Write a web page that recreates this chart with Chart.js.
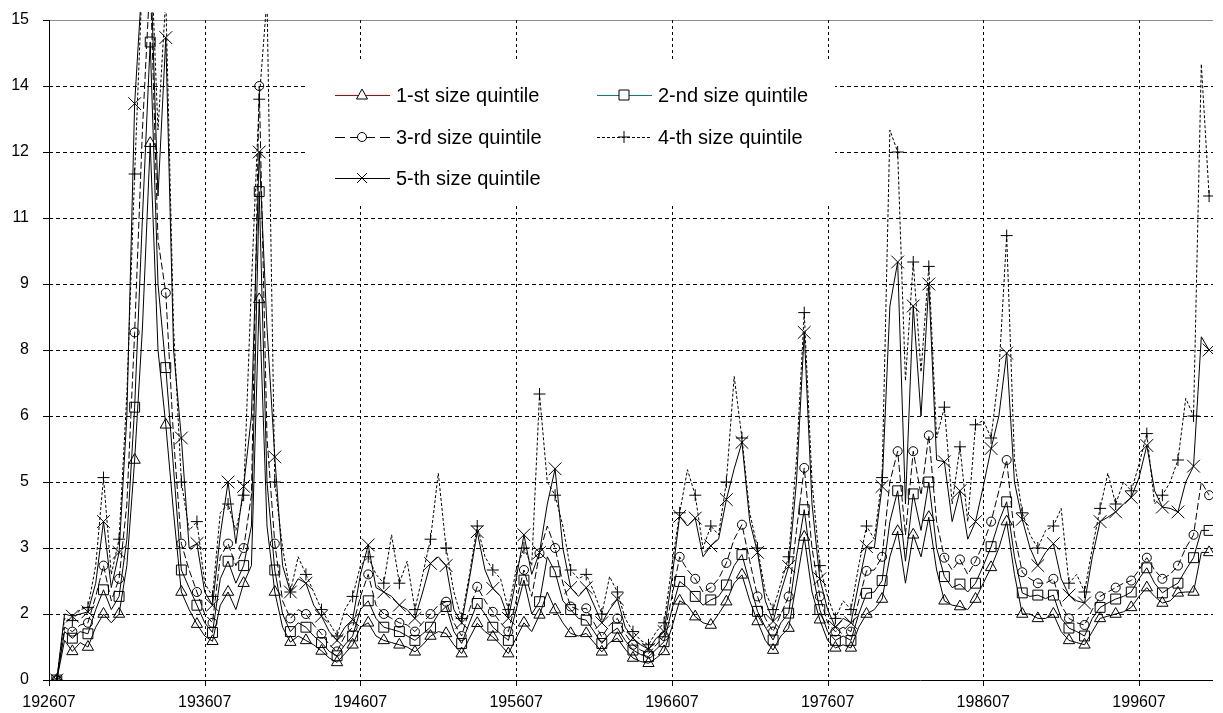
<!DOCTYPE html>
<html>
<head>
<meta charset="utf-8">
<script src="https://cdn.jsdelivr.net/npm/chart.js@4.4.1/dist/chart.umd.min.js"></script>
<style>
html,body{margin:0;padding:0;background:#fff;}
#wrap{width:1223px;height:713px;position:relative;}
</style>
</head>
<body>
<div id="wrap"><canvas id="c" width="1223" height="713"></canvas></div>
<script>
// Categories: half-year sample periods (YYYYMM)
const periods = [
'192701','192707','192801','192807','192901','192907','193001','193007','193101','193107',
'193201','193207','193301','193307','193401','193407','193501','193507','193601','193607',
'193701','193707','193801','193807','193901','193907','194001','194007','194101','194107',
'194201','194207','194301','194307','194401','194407','194501','194507','194601','194607',
'194701','194707','194801','194807','194901','194907','195001','195007','195101','195107',
'195201','195207','195301','195307','195401','195407','195501','195507','195601','195607',
'195701','195707','195801','195807','195901','195907','196001','196007','196101','196107',
'196201','196207','196301','196307','196401','196407','196501','196507','196601','196607',
'196701','196707','196801','196807','196901','196907','197001','197007','197101','197107',
'197201','197207','197301','197307','197401','197407','197501','197507','197601','197607',
'197701','197707','197801','197807','197901','197907','198001','198007','198101','198107',
'198201','198207','198301','198307','198401','198407','198501','198507','198601','198607',
'198701','198707','198801','198807','198901','198907','199001','199007','199101','199107',
'199201','199207','199301','199307','199401','199407','199501','199507','199601','199607',
'199701','199707','199801','199807','199901','199907','200001','200007','200101'
];
const axisStart = '192607';
const axisEnd = '200104';
const tickLabels = ['192607','193607','194607','195607','196607','197607','198607','199607'];

const seriesNames = ['1-st size quintile','2-nd size quintile','3-rd size quintile','4-th size quintile','5-th size quintile'];

const q1 = [
0,0.9,0.65,0.85,0.75,1.2,1.5,1.3,1.5,2.6,
5.0,8.0,12.2,7.5,5.8,3.8,2.0,1.6,1.27,1.0,
0.88,1.7,2.0,1.6,2.2,2.6,8.65,3.5,2.0,1.2,
0.86,1.0,0.9,0.8,0.66,0.5,0.4,0.6,0.8,1.2,
1.3,1.0,0.9,0.85,0.8,0.75,0.64,0.8,1.0,1.1,
1.06,0.8,0.6,0.95,1.29,1.1,0.98,0.8,0.6,0.95,
1.3,1.1,1.48,2.0,1.6,1.3,1.06,1.0,1.06,0.85,
0.64,0.85,0.95,0.7,0.5,0.42,0.38,0.5,0.65,1.2,
1.8,1.7,1.44,1.3,1.25,1.5,1.78,2.2,2.39,1.8,
1.33,0.9,0.68,1.0,1.18,2.2,3.25,2.0,1.37,0.9,
0.73,0.8,0.73,1.2,1.5,1.6,1.84,2.8,3.38,2.2,
3.3,2.8,3.7,2.5,1.8,1.7,1.67,1.6,1.84,2.2,
2.56,3.0,3.6,2.4,1.5,1.5,1.4,1.4,1.5,1.1,
0.9,0.85,0.8,1.1,1.4,1.45,1.5,1.55,1.65,1.9,
2.1,1.9,1.75,1.8,1.98,2.0,2.0,2.9,2.9
];
const q2 = [
0,1.1,0.95,1.1,1.05,1.6,2.05,1.6,1.9,3.2,
6.2,10.5,14.5,9.0,7.1,4.8,2.5,2.1,1.7,1.3,
1.08,2.3,2.7,2.2,2.6,3.5,11.1,4.5,2.5,1.5,
1.1,1.3,1.2,1.0,0.85,0.65,0.55,0.8,1.0,1.6,
1.8,1.4,1.2,1.15,1.1,1.0,0.9,1.05,1.2,1.5,
1.67,1.1,0.83,1.3,1.74,1.5,1.2,1.05,0.9,1.6,
2.27,1.5,1.78,2.8,2.46,1.8,1.6,1.4,1.36,1.1,
0.83,1.05,1.18,0.9,0.68,0.58,0.53,0.7,0.87,1.6,
2.24,2.1,1.9,1.7,1.82,1.9,2.16,2.6,2.85,2.2,
1.56,1.2,0.91,1.3,1.52,2.8,3.87,2.5,1.6,1.1,
0.9,1.0,0.9,1.5,1.97,2.0,2.26,3.6,4.3,2.7,
4.23,3.4,4.5,3.0,2.35,2.1,2.18,2.0,2.2,2.6,
3.03,3.6,4.05,2.8,1.98,1.9,1.93,1.85,1.93,1.4,
1.18,1.1,1.0,1.4,1.65,1.75,1.84,1.9,2.0,2.3,
2.55,2.2,1.98,2.1,2.2,2.5,2.78,3.4,3.4
];
const q3 = [
0,1.2,1.1,1.25,1.3,1.9,2.6,1.8,2.3,4.0,
7.9,12.5,16,10.0,8.8,5.5,3.1,2.5,2.0,1.5,
1.3,2.8,3.1,2.6,3.0,4.2,13.5,5.5,3.1,1.8,
1.4,1.6,1.5,1.25,1.05,0.8,0.65,1.0,1.2,1.9,
2.4,1.7,1.5,1.4,1.3,1.25,1.1,1.3,1.5,1.7,
1.78,1.3,1.0,1.6,2.12,1.8,1.55,1.3,1.1,1.8,
2.5,1.9,2.88,3.5,3.0,2.2,1.67,1.6,1.63,1.3,
0.98,1.25,1.4,1.05,0.8,0.68,0.6,0.8,1.0,1.9,
2.8,2.5,2.3,2.0,2.1,2.3,2.66,3.2,3.53,2.7,
1.9,1.4,1.1,1.5,1.9,3.4,4.82,3.0,1.9,1.3,
1.1,1.2,1.1,1.8,2.48,2.5,2.8,4.5,5.2,3.3,
5.2,4.2,5.56,3.6,2.78,2.5,2.74,2.4,2.7,3.1,
3.6,4.3,5.0,3.3,2.45,2.3,2.2,2.2,2.3,1.7,
1.4,1.3,1.25,1.6,1.9,2.0,2.1,2.2,2.26,2.5,
2.78,2.5,2.3,2.4,2.6,3.0,3.3,4.5,4.2
];
const q4 = [
0,1.4,1.35,1.6,1.65,2.6,4.6,2.4,3.2,6.5,
11.5,16,17,12.5,15.5,8.0,4.5,3.4,3.6,2.2,
1.9,3.8,4.0,3.4,4.2,9.0,13.2,15.5,4.5,3.0,
2.0,2.8,2.4,2.0,1.6,1.3,1.0,1.6,1.9,2.6,
2.8,2.4,2.2,3.3,2.2,2.7,1.6,2.4,3.2,4.7,
3.0,2.0,1.4,2.4,3.5,2.8,2.5,2.3,1.6,2.5,
3.0,2.6,6.5,4.5,4.2,3.5,2.5,2.3,2.4,2.0,
1.5,2.35,2.0,1.4,1.1,0.9,0.8,1.1,1.3,2.6,
3.8,4.78,4.2,3.0,3.5,3.3,4.5,6.9,5.5,3.8,
3.0,2.0,1.6,2.2,2.8,5.0,8.35,4.5,2.6,1.9,
1.4,1.8,1.6,2.6,3.5,3.2,4.6,12.5,12.0,6.8,
9.5,7.0,9.4,5.5,6.2,4.0,5.3,3.6,5.8,5.9,
5.5,7.0,10.1,5.0,3.8,3.3,3.0,3.4,3.5,3.9,
2.2,2.4,2.0,3.0,3.9,4.7,4.0,4.5,4.3,4.9,
5.6,4.0,4.2,4.5,5.0,6.4,6.0,14.0,11.0
];
const q5 = [
0,1.5,1.45,1.5,1.55,2.2,3.6,2.1,2.9,6.0,
13.1,16,16.5,11.0,14.6,7.5,5.5,3.0,3.1,2.0,
1.7,3.3,4.5,3.1,4.4,6.0,12.0,8.0,5.07,2.6,
2.0,2.3,2.2,1.7,1.45,1.1,0.9,1.2,1.37,2.4,
3.07,2.1,2.0,1.9,1.7,1.6,1.4,2.0,2.65,2.8,
2.6,1.6,1.3,2.3,3.37,2.5,2.08,1.9,1.4,2.3,
3.3,2.4,2.9,4.0,4.8,3.0,2.1,1.9,2.1,1.7,
1.3,1.6,1.84,1.2,0.95,0.8,0.7,0.95,1.1,2.3,
3.72,3.5,3.68,2.8,3.05,3.2,4.1,4.8,5.4,3.6,
2.9,1.8,1.33,2.0,2.58,4.5,7.9,4.0,2.3,1.6,
1.2,1.4,1.3,2.2,3.03,3.0,4.4,8.5,9.5,4.0,
8.5,6.0,9.0,5.0,4.96,3.6,4.3,3.2,3.6,4.4,
5.26,6.0,7.43,4.5,3.65,3.0,2.6,2.9,3.1,2.3,
1.93,1.8,1.75,2.8,3.6,3.7,3.82,4.0,4.15,4.6,
5.33,4.3,3.93,3.9,3.82,4.5,4.86,7.8,7.5
];

// month offset of a YYYYMM period from the axis start
function monthIndex(p) {
  const s = parseInt(axisStart, 10), v = parseInt(p, 10);
  return (Math.floor(v / 100) - Math.floor(s / 100)) * 12 + (v % 100 - s % 100);
}
const xs = periods.map(monthIndex);
const tickMonths = tickLabels.map(monthIndex);
const pts = arr => arr.map((v, i) => ({x: xs[i], y: v}));
const markerEvery = (r) => (c) => (c.dataIndex % 2 === 0 ? r : 0);

const FONT = "'Liberation Sans', Arial, sans-serif";

const styles = [
  {pointStyle: 'triangle', radius: 6.5, dash: [], legendColor: '#c00000'},
  {pointStyle: 'rect', radius: 7, dash: [], legendColor: '#008080'},
  {pointStyle: 'circle', radius: 4.5, dash: [7, 3], legendColor: '#000'},
  {pointStyle: 'cross', radius: 6, dash: [3, 2], legendColor: '#000'},
  {pointStyle: 'crossRot', radius: 9, dash: [], legendColor: '#000'}
];
const seriesData = [q1, q2, q3, q4, q5];

const datasets = seriesData.map((arr, i) => ({
  label: seriesNames[i],
  data: pts(arr),
  borderColor: '#000',
  borderWidth: 1,
  borderDash: styles[i].dash,
  pointStyle: styles[i].pointStyle,
  pointRadius: markerEvery(styles[i].radius),
  pointBorderColor: '#000',
  pointBackgroundColor: 'rgba(0,0,0,0)',
  pointBorderWidth: 1,
  tension: 0,
  fill: false,
  clip: {left: 0, top: 8, right: 0, bottom: 0}
}));

const gridPlugin = {
  id: 'excelGrid',
  beforeDatasetsDraw(chart) {
    const {ctx, chartArea: a, scales: {x, y}} = chart;
    ctx.save();
    ctx.lineWidth = 1;
    y.ticks.forEach(t => {
      const py = Math.round(y.getPixelForValue(t.value)) + 0.5;
      ctx.setLineDash([]);
      ctx.strokeStyle = '#000';
      ctx.beginPath(); ctx.moveTo(a.left - 6, py); ctx.lineTo(a.left, py); ctx.stroke();
      if (t.value <= 0) return;
      if (t.value >= 15) { ctx.setLineDash([]); ctx.strokeStyle = '#8c8c8c'; }
      else { ctx.setLineDash([4, 3]); ctx.strokeStyle = '#000'; }
      ctx.beginPath(); ctx.moveTo(a.left, py); ctx.lineTo(a.right, py); ctx.stroke();
    });
    x.ticks.forEach(t => {
      const px = Math.round(x.getPixelForValue(t.value)) + 0.5;
      ctx.setLineDash([]);
      ctx.strokeStyle = '#000';
      ctx.beginPath(); ctx.moveTo(px, a.bottom); ctx.lineTo(px, a.bottom + 6); ctx.stroke();
      if (t.value <= 0) return;
      ctx.setLineDash([3, 3]);
      ctx.beginPath(); ctx.moveTo(px, a.top); ctx.lineTo(px, a.bottom); ctx.stroke();
    });
    ctx.setLineDash([]);
    ctx.strokeStyle = '#000';
    ctx.beginPath();
    ctx.moveTo(Math.round(a.left) + 0.5, a.top);
    ctx.lineTo(Math.round(a.left) + 0.5, a.bottom);
    ctx.moveTo(a.left - 6, Math.round(a.bottom) + 0.5);
    ctx.lineTo(a.right, Math.round(a.bottom) + 0.5);
    ctx.stroke();
    ctx.restore();
  }
};

function drawMarker(ctx, style, cx, cy) {
  ctx.beginPath();
  if (style === 'triangle') {
    ctx.moveTo(cx, cy - 6); ctx.lineTo(cx + 5.5, cy + 4); ctx.lineTo(cx - 5.5, cy + 4); ctx.closePath();
    ctx.fillStyle = '#fff'; ctx.fill(); ctx.stroke();
  } else if (style === 'rect') {
    ctx.rect(cx - 5, cy - 5, 10, 10);
    ctx.fillStyle = '#fff'; ctx.fill(); ctx.stroke();
  } else if (style === 'circle') {
    ctx.arc(cx, cy, 4.5, 0, Math.PI * 2);
    ctx.fillStyle = '#fff'; ctx.fill(); ctx.stroke();
  } else if (style === 'cross') {
    ctx.moveTo(cx - 6, cy); ctx.lineTo(cx + 6, cy); ctx.moveTo(cx, cy - 6); ctx.lineTo(cx, cy + 6); ctx.stroke();
  } else {
    ctx.moveTo(cx - 5, cy - 5); ctx.lineTo(cx + 5, cy + 5); ctx.moveTo(cx + 5, cy - 5); ctx.lineTo(cx - 5, cy + 5); ctx.stroke();
  }
}

const legendPlugin = {
  id: 'excelLegend',
  afterDatasetsDraw(chart) {
    const ctx = chart.ctx;
    ctx.save();
    ctx.fillStyle = '#fff';
    ctx.fillRect(305, 62, 530, 143);
    const slots = [
      {x: 335, y: 95}, {x: 597, y: 95},
      {x: 335, y: 137}, {x: 597, y: 137},
      {x: 335, y: 178}
    ];
    slots.forEach((s, i) => {
      const st = styles[i];
      ctx.lineWidth = 1;
      ctx.strokeStyle = st.legendColor;
      ctx.setLineDash(i === 2 ? [10, 5] : (i === 3 ? [3, 2] : []));
      ctx.beginPath(); ctx.moveTo(s.x, s.y + 0.5); ctx.lineTo(s.x + 55, s.y + 0.5); ctx.stroke();
      ctx.setLineDash([]);
      ctx.strokeStyle = '#000';
      drawMarker(ctx, st.pointStyle, s.x + 27, s.y);
      ctx.fillStyle = '#000';
      ctx.font = '20px ' + FONT;
      ctx.textBaseline = 'middle';
      ctx.textAlign = 'left';
      ctx.fillText(seriesNames[i], s.x + 61, s.y + 1);
    });
    ctx.restore();
  }
};

new Chart(document.getElementById('c').getContext('2d'), {
  type: 'line',
  data: {datasets},
  plugins: [gridPlugin, legendPlugin],
  options: {
    responsive: false,
    animation: false,
    layout: {padding: {top: 20, right: 0, left: 0, bottom: 0}},
    plugins: {legend: {display: false}, tooltip: {enabled: false}},
    scales: {
      x: {
        type: 'linear',
        min: monthIndex(axisStart),
        max: monthIndex(axisEnd),
        grid: {display: false, drawTicks: false},
        border: {display: false},
        afterBuildTicks: s => { s.ticks = tickMonths.map(v => ({value: v})); },
        afterFit: s => { s.height = 33; s.paddingLeft = 0; s.paddingRight = 0; },
        ticks: {
          autoSkip: false, maxRotation: 0, padding: 13, color: '#000',
          font: {family: FONT, size: 16},
          callback: (v) => { const i = tickMonths.indexOf(v); return i >= 0 ? tickLabels[i] : ''; }
        }
      },
      y: {
        min: 0, max: 15,
        grid: {display: false, drawTicks: false},
        border: {display: false},
        afterFit: s => { s.width = 49; s.paddingTop = 0; s.paddingBottom = 0; },
        ticks: {
          stepSize: 1.5, padding: 20, color: '#000',
          font: {family: FONT, size: 16},
          callback: v => String(Math.round(v))
        }
      }
    }
  }
});
</script>
</body>
</html>
